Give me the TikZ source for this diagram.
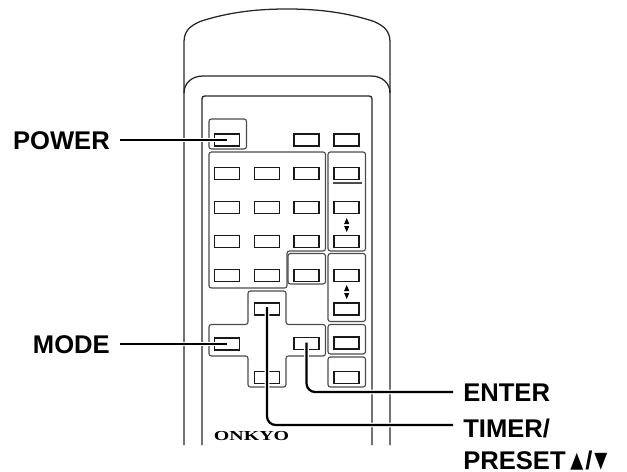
\documentclass[tikz,border=0pt]{standalone}
\usepackage{fontspec}
\setmainfont{Liberation Sans}
\newfontfamily\logofont{Liberation Serif}
\newfontfamily\symfont{DejaVu Sans}
\usetikzlibrary{calc}
\newcommand{\narrowsym}[1]{\raisebox{1.6pt}{\scalebox{0.66}[0.86]{\symfont\fontsize{19.2}{22}\selectfont #1}}}
\tikzset{
  body/.style={draw=black!85,line width=0.95pt},
  frame/.style={draw=black!70,line width=0.85pt,rounded corners=1.8pt},
  btn/.style={draw=black!90,line width=1.15pt,minimum width=18.6pt,minimum height=8.8pt,inner sep=0pt,outer sep=0pt,fill=white},
  label/.style={font=\fontsize{19.2}{22}\selectfont\bfseries,text height=13.7pt,text depth=0pt,inner ysep=0pt,inner xsep=7.5pt},
  conn/.style={line width=1.7pt,rounded corners=6.5pt,preaction={draw=white,line width=3.6pt}},
  tri/.style={fill=black,draw=none}
}
\begin{document}
\begin{tikzpicture}[x=0.75pt,y=-0.75pt]
\useasboundingbox (0,0) rectangle (627,471);
% body
\draw[body] (184,445) -- (184,42) .. controls (184,31) and (190,26) .. (200,21.5)
  .. controls (232,11) and (262,9) .. (287,9)
  .. controls (312,9) and (342,11) .. (374,21.5)
  .. controls (384,26) and (390,31) .. (390,42) -- (390,445);
\draw[body] (184,93) .. controls (184,83) and (192,76) .. (203,76) -- (371,76) .. controls (382,76) and (390,83) .. (390,93);
\draw[body] (202,445) -- (202,99) [rounded corners=2pt] -- (202,96) -- (372,96) -- (372,445);
% frames
\draw[frame] (209,119) rectangle (246.5,149);
\draw[frame] (209,152) -- (325.5,152) -- (325.5,251) -- (287,251) -- (287,288) -- (209,288) -- cycle;
\draw[frame] (288,253.5) rectangle (325.5,284);
\draw[frame] (328,152) rectangle (365.5,251);
\draw[frame] (328,253.5) rectangle (365.5,321.5);
\draw[frame] (328,324.5) rectangle (365.5,354);
\draw[frame] (328,357) rectangle (365.5,387);
\draw[frame] (248,291) -- (286,291) -- (286,324.5) -- (325.5,324.5) -- (325.5,356) -- (286,356) -- (286,387) -- (248,387) -- (248,356) -- (209,356) -- (209,324.5) -- (248,324.5) -- cycle;
\draw[black!70,line width=0.8pt] (332.5,183) -- (361.5,183);
% buttons
\node[btn] (bpower) at (227,140) {};
\node[btn] (ba) at (306.5,140) {};
\node[btn] (bb) at (346.5,140) {};
\foreach \n/\y in {1/173.5,2/207.5,3/241.5,4/275.5}{
  \node[btn] (g1\n) at (227,\y) {};
  \node[btn] (g2\n) at (267,\y) {};
  \node[btn] (g3\n) at (306.5,\y) {};
  \node[btn] (g4\n) at (346.5,\y) {};
}
\node[btn] (r5) at (346.5,309) {};
\node[btn] (r6) at (346.5,343) {};
\node[btn] (r7) at (346.5,377.5) {};
\node[btn] (bmode) at (227,344) {};
\node[btn] (btimer) at (267,309) {};
\node[btn] (benter) at (306.5,343.5) {};
\node[btn] (blow) at (267,377.5) {};
% up/down marks
\foreach \y in {225,292}{
  \fill[tri] (346.7,\y-7) -- (349.3,\y-1) -- (344.1,\y-1) -- cycle;
  \fill[tri] (346.7,\y+7) -- (349.3,\y+1) -- (344.1,\y+1) -- cycle;
}
% logo
\node[inner sep=0pt] (logo) at (251.5,436.5) {\scalebox{1.45}[1]{\logofont\fontsize{10.3}{12}\selectfont\bfseries ONKYO}};
% labels
\node[label,anchor=east] (lpower) at (120,140) {POWER};
\node[label,anchor=east] (lmode) at (120,344) {MODE};
\node[label,anchor=west] (lenter) at (453,392) {ENTER};
\node[label,anchor=west,text height=18.2pt] (ltimer) at (453,425) {TIMER/};
\node[label,anchor=west] (lpreset) at (453,460) {PRESET\hspace{3.5pt}\narrowsym{▲}\hspace{1.5pt}/\hspace{1.5pt}\narrowsym{▼}};
% connectors
\draw[conn] (lpower.east) -- (bpower.center);
\draw[conn] (lmode.east) -- (bmode.center);
\draw[conn] ([yshift=0.75pt]benter.center) |- (lenter.west);
\draw[conn] ([yshift=1.5pt]btimer.center) |- (ltimer.west);
\end{tikzpicture}
\end{document}
